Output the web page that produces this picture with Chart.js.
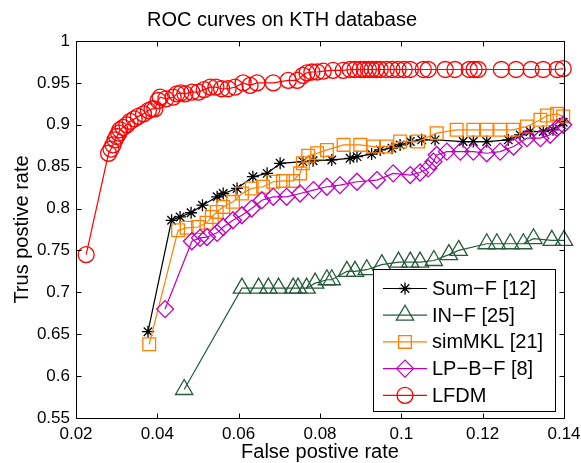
<!DOCTYPE html>
<html><head><meta charset="utf-8">
<script src="https://cdn.jsdelivr.net/npm/chart.js@4/dist/chart.umd.min.js"></script>
<style>html,body{margin:0;padding:0;background:#fff}canvas{display:block}</style>
</head><body>
<canvas id="c" width="581" height="463"></canvas>
<script>
// ---- data ----
const titleText = "ROC curves on KTH database";
const xLabel = "False postive rate";
const yLabel = "Trus postive rate";
const seriesNames = ["Sum\u2212F [12]", "IN\u2212F [25]", "simMKL [21]", "LP\u2212B\u2212F [8]", "LFDM"];

const sumFX = [0.0377,0.0435,0.0456,0.0483,0.0511,0.0547,0.0562,0.0596,0.0635,0.067,0.0702,0.0758,0.0783,0.0829,0.0874,0.0891,0.0927,0.0948,0.0977,0.0997,0.1022,0.105,0.1083,0.1152,0.1177,0.121,0.1263,0.1292,0.1317,0.1349,0.1373,0.1398];
const sumFY = [0.653,0.786,0.790,0.795,0.804,0.814,0.818,0.824,0.838,0.842,0.854,0.856,0.857,0.858,0.860,0.862,0.865,0.870,0.872,0.876,0.880,0.882,0.882,0.880,0.880,0.880,0.882,0.888,0.892,0.892,0.894,0.903];

const inFX = [0.0466,0.0608,0.0649,0.0673,0.0698,0.0734,0.0746,0.0767,0.0788,0.0817,0.0829,0.0866,0.0886,0.0915,0.0952,0.0993,0.1022,0.1046,0.108,0.1117,0.1141,0.121,0.1235,0.1268,0.13,0.1325,0.137,0.14];
const inFY = [0.584,0.705,0.705,0.705,0.705,0.705,0.705,0.705,0.711,0.715,0.715,0.725,0.725,0.727,0.733,0.736,0.736,0.736,0.738,0.745,0.750,0.758,0.758,0.758,0.758,0.764,0.762,0.762];

const simMKLX = [0.038,0.0451,0.0472,0.05,0.0521,0.0534,0.0546,0.0562,0.0586,0.0608,0.0632,0.066,0.0685,0.0709,0.0734,0.0751,0.0758,0.0771,0.0793,0.0817,0.0858,0.0899,0.0931,0.0964,0.0997,0.1041,0.1087,0.1136,0.1177,0.121,0.1243,0.1275,0.1309,0.1342,0.1358,0.1383,0.1398];
const simMKLY = [0.638,0.774,0.777,0.778,0.783,0.790,0.796,0.802,0.808,0.818,0.824,0.826,0.832,0.833,0.833,0.842,0.854,0.863,0.866,0.870,0.876,0.876,0.874,0.874,0.880,0.880,0.890,0.894,0.894,0.894,0.894,0.894,0.898,0.906,0.911,0.913,0.910];

const lpbfX = [0.0419,0.0485,0.0505,0.0522,0.0547,0.0562,0.0586,0.0608,0.0632,0.0657,0.0685,0.0718,0.0751,0.0784,0.0817,0.0849,0.0891,0.094,0.098,0.1022,0.1046,0.1066,0.1079,0.1087,0.1112,0.1145,0.1177,0.121,0.1243,0.1276,0.1309,0.1342,0.1366,0.1383,0.1398];
const lpbfY = [0.680,0.761,0.765,0.766,0.771,0.778,0.786,0.792,0.800,0.810,0.814,0.814,0.818,0.822,0.826,0.828,0.832,0.834,0.842,0.840,0.843,0.848,0.856,0.864,0.868,0.868,0.868,0.866,0.868,0.874,0.884,0.884,0.888,0.896,0.900];

const lfdmX = [0.0225,0.028,0.0286,0.0291,0.0296,0.030,0.0305,0.0308,0.0316,0.0325,0.0333,0.0343,0.0353,0.0366,0.0378,0.0387,0.0394,0.0402,0.0407,0.0421,0.0439,0.0448,0.0458,0.0468,0.0485,0.0501,0.0515,0.053,0.0544,0.0558,0.0574,0.0591,0.0611,0.0628,0.0645,0.0685,0.0722,0.0744,0.0758,0.0768,0.078,0.0793,0.0808,0.0832,0.0857,0.0874,0.0886,0.0899,0.0909,0.0919,0.0928,0.0938,0.0948,0.0963,0.0977,0.0992,0.1007,0.1022,0.1054,0.1066,0.1108,0.1132,0.1167,0.1179,0.1189,0.1246,0.1282,0.1319,0.1349,0.1383,0.1398];
const lfdmY = [0.745,0.866,0.871,0.876,0.882,0.886,0.890,0.894,0.897,0.900,0.904,0.907,0.910,0.913,0.917,0.919,0.919,0.929,0.933,0.931,0.933,0.937,0.938,0.937,0.939,0.939,0.942,0.945,0.945,0.943,0.943,0.945,0.950,0.947,0.950,0.950,0.953,0.953,0.959,0.962,0.963,0.963,0.964,0.965,0.965,0.966,0.966,0.966,0.966,0.966,0.966,0.966,0.966,0.966,0.966,0.966,0.966,0.966,0.966,0.966,0.966,0.966,0.966,0.966,0.966,0.966,0.966,0.966,0.966,0.966,0.967];

const xTicks = [0.02,0.04,0.06,0.08,0.1,0.12,0.14];
const yTicks = [0.55,0.6,0.65,0.7,0.75,0.8,0.85,0.9,0.95,1];

// ---- build ----
const FONT = "'Liberation Sans', Arial, Helvetica, sans-serif";
const pts = (xs, ys) => xs.map((x, i) => ({x, y: ys[i]}));
const styles = [
  {color:'#000000', style:'star', r:6},
  {color:'#275b3d', style:'triangle', r:10},
  {color:'#ff8000', style:'rect', r:9},
  {color:'#bf00bf', style:'rectRot', r:8.5},
  {color:'#ff0000', style:'circle', r:8}
];
const seriesData = [pts(sumFX,sumFY), pts(inFX,inFY), pts(simMKLX,simMKLY), pts(lpbfX,lpbfY), pts(lfdmX,lfdmY)];
const datasets = seriesData.map((d, i) => ({
  label: seriesNames[i],
  data: d,
  showLine: true,
  borderColor: styles[i].color,
  borderWidth: 1.2,
  pointStyle: styles[i].style,
  pointRadius: styles[i].r,
  pointBorderColor: styles[i].color,
  pointBackgroundColor: 'rgba(0,0,0,0)',
  pointBorderWidth: 1.3,
  tension: 0,
  clip: 20,
  order: 5 - i
}));

function drawMarker(ctx, style, x, y, r) {
  ctx.beginPath();
  if (style === 'circle') { ctx.arc(x, y, r, 0, Math.PI*2); }
  else if (style === 'rect') { const s = r*Math.SQRT1_2; ctx.rect(x-s, y-s, 2*s, 2*s); }
  else if (style === 'rectRot') { ctx.moveTo(x-r,y); ctx.lineTo(x,y-r); ctx.lineTo(x+r,y); ctx.lineTo(x,y+r); ctx.closePath(); }
  else if (style === 'triangle') {
    let a = 0;
    ctx.moveTo(x + Math.sin(a)*r, y - Math.cos(a)*r); a += 2*Math.PI/3;
    ctx.lineTo(x + Math.sin(a)*r, y - Math.cos(a)*r); a += 2*Math.PI/3;
    ctx.lineTo(x + Math.sin(a)*r, y - Math.cos(a)*r); ctx.closePath();
  } else if (style === 'star') {
    ctx.moveTo(x, y-r); ctx.lineTo(x, y+r); ctx.moveTo(x-r, y); ctx.lineTo(x+r, y);
    const o = r*Math.SQRT1_2;
    ctx.moveTo(x-o, y-o); ctx.lineTo(x+o, y+o); ctx.moveTo(x-o, y+o); ctx.lineTo(x+o, y-o);
  }
  ctx.stroke();
}

const framePlugin = {
  id: 'frame',
  afterDatasetsDraw(chart) {
    const {ctx, chartArea: a, scales: {x, y}} = chart;
    ctx.save();
    ctx.strokeStyle = '#000'; ctx.lineWidth = 1;
    ctx.beginPath();
    const L = Math.round(a.left)+0.5, R = Math.round(a.right)+0.5, T = Math.round(a.top)+0.5, B = Math.round(a.bottom)+0.5;
    ctx.rect(L, T, R-L, B-T);
    const tl = 5;
    xTicks.forEach(v => { const p = Math.round(x.getPixelForValue(v))+0.5; ctx.moveTo(p, B); ctx.lineTo(p, B-tl); ctx.moveTo(p, T); ctx.lineTo(p, T+tl); });
    yTicks.forEach(v => { const p = Math.round(y.getPixelForValue(v))+0.5; ctx.moveTo(L, p); ctx.lineTo(L+tl, p); ctx.moveTo(R, p); ctx.lineTo(R-tl, p); });
    ctx.stroke();
    // legend
    const bx = 373.5, by = 269.5, bw = 182, bh = 142;
    ctx.fillStyle = '#fff'; ctx.fillRect(bx, by, bw, bh);
    ctx.strokeRect(bx, by, bw, bh);
    ctx.font = "20px " + FONT; ctx.textBaseline = 'middle'; ctx.textAlign = 'left';
    chart.data.datasets.forEach((ds, i) => {
      const yy = 288.5 + i*26.7;
      ctx.strokeStyle = ds.borderColor; ctx.lineWidth = 1.2;
      ctx.beginPath(); ctx.moveTo(383, yy); ctx.lineTo(427, yy); ctx.stroke();
      ctx.lineWidth = 1.3;
      drawMarker(ctx, ds.pointStyle, 405, yy, ds.pointRadius);
      ctx.fillStyle = '#000';
      ctx.fillText(ds.label, 432, yy + 1);
    });
    ctx.restore();
  }
};

const fmt = v => String(parseFloat(Number(v).toFixed(2)));

new Chart(document.getElementById('c'), {
  type: 'scatter',
  data: { datasets },
  plugins: [framePlugin],
  options: {
    responsive: false,
    animation: false,
    layout: { padding: { left: 0, right: 17, top: 0, bottom: 0 } },
    plugins: {
      legend: { display: false },
      tooltip: { enabled: false },
      title: { display: true, text: titleText, color: '#000', font: { family: FONT, size: 20, weight: 'normal', lineHeight: 1 }, padding: { top: 10, bottom: 11 } }
    },
    scales: {
      x: {
        type: 'linear', min: 0.02, max: 0.14,
        afterBuildTicks: s => { s.ticks = xTicks.map(v => ({value: v})); },
        afterFit: s => { s.height = 45; s.paddingLeft = 0; s.paddingRight = 0; },
        grid: { display: false, drawTicks: false },
        border: { display: false },
        ticks: { color: '#000', font: { family: FONT, size: 17 }, padding: 6, maxRotation: 0, autoSkip: false, callback: fmt },
        title: { display: true, text: xLabel, color: '#000', font: { family: FONT, size: 20, lineHeight: 1 }, padding: { top: 0, bottom: 1 } }
      },
      y: {
        type: 'linear', min: 0.55, max: 1,
        afterBuildTicks: s => { s.ticks = yTicks.map(v => ({value: v})); },
        afterFit: s => { s.width = 76; s.paddingTop = 0; s.paddingBottom = 0; },
        grid: { display: false, drawTicks: false },
        border: { display: false },
        ticks: { color: '#000', font: { family: FONT, size: 17 }, padding: 6, autoSkip: false, callback: fmt },
        title: { display: true, text: yLabel, color: '#000', font: { family: FONT, size: 20, lineHeight: 1 }, padding: { top: 12, bottom: 0 } }
      }
    }
  }
});
</script>
</body></html>
